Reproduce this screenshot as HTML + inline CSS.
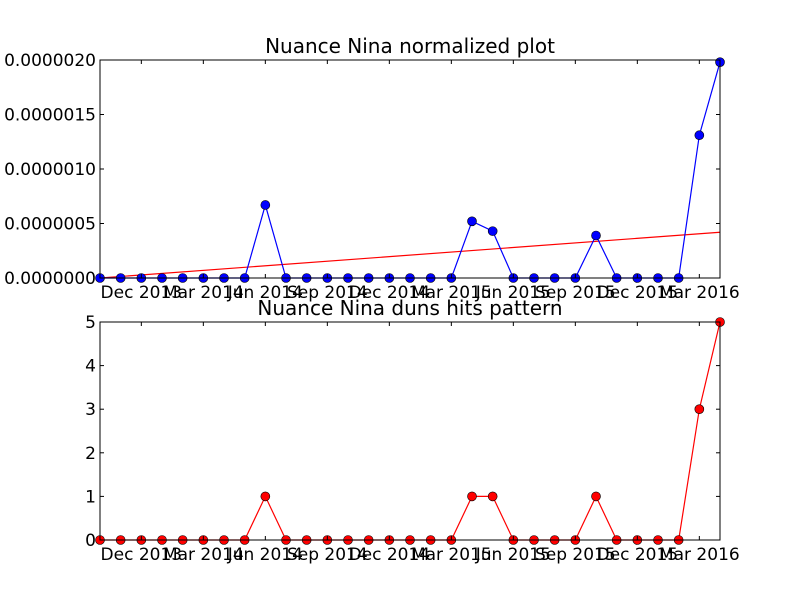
<!DOCTYPE html>
<html><head><meta charset="utf-8"><style>
body{margin:0;background:#fff;}
svg text{font-family:"DejaVu Sans","Liberation Sans",sans-serif;}
</style></head><body>
<svg id="chart" width="800" height="600" xmlns="http://www.w3.org/2000/svg">
<rect width="800" height="600" fill="#fff"/>
</svg>
<script>
const months = ["Oct 2013","Nov 2013","Dec 2013","Jan 2014","Feb 2014","Mar 2014","Apr 2014","May 2014","Jun 2014","Jul 2014","Aug 2014","Sep 2014","Oct 2014","Nov 2014","Dec 2014","Jan 2015","Feb 2015","Mar 2015","Apr 2015","May 2015","Jun 2015","Jul 2015","Aug 2015","Sep 2015","Oct 2015","Nov 2015","Dec 2015","Jan 2016","Feb 2016","Mar 2016","Apr 2016"];
const normValues = [0,0,0,0,0,0,0,0,0.67e-6,0,0,0,0,0,0,0,0,0,0.52e-6,0.43e-6,0,0,0,0,0.39e-6,0,0,0,0,1.31e-6,1.98e-6];
const trendStart = 0;
const trendEnd = 0.42e-6;
const hitValues = [0,0,0,0,0,0,0,0,1,0,0,0,0,0,0,0,0,0,1,1,0,0,0,0,1,0,0,0,0,3,5];
const xTickIdx = [2,5,8,11,14,17,20,23,26,29];
const xTickLabels = ["Dec 2013","Mar 2014","Jun 2014","Sep 2014","Dec 2014","Mar 2015","Jun 2015","Sep 2015","Dec 2015","Mar 2016"];
const topYTicks = [0,0.5e-6,1e-6,1.5e-6,2e-6];
const topYLabels = ["0.0000000","0.0000005","0.0000010","0.0000015","0.0000020"];
const botYTicks = [0,1,2,3,4,5];

const svg = document.getElementById('chart');
const NS = 'http://www.w3.org/2000/svg';
function mk(tag, attrs, parent){const e=document.createElementNS(NS,tag);for(const k in attrs)e.setAttribute(k,attrs[k]);(parent||svg).appendChild(e);return e;}
const L=100,R=720;
function xS(i){return L+(R-L)*i/(months.length-1);}

function panel(top,bottom,ymax,yTicks,yLabels,values,color,title,name,trend){
  const g=mk('g',{});
  
  
  const yS=v=>bottom-(bottom-top)*v/ymax;
  const t=mk('text',{x:410,y:top-7,'text-anchor':'middle','font-size':20},g);
  t.textContent=title;
  
  
  if(trend){
    const tl=mk('line',{x1:xS(0),y1:yS(trend[0]),x2:xS(months.length-1),y2:yS(trend[1]),stroke:'red','stroke-width':1.2},g);
    
    
  }
  const pts=values.map((v,i)=>xS(i)+','+yS(v)).join(' ');
  const pl=mk('polyline',{points:pts,fill:'none',stroke:color,'stroke-width':1.2},g);
  
  
  values.forEach((v,i)=>{
    const c=mk('circle',{cx:xS(i),cy:yS(v),r:4.5,fill:color,stroke:'#000','stroke-width':0.6},g);
    
    
  });
  const fr=mk('rect',{x:L,y:top,width:R-L,height:bottom-top,fill:'none',stroke:'#000','stroke-width':1},g);
  
  
  yTicks.forEach((v,k)=>{
    const y=yS(v);
    mk('line',{x1:L,y1:y,x2:L+4,y2:y,stroke:'#000'},g);
    mk('line',{x1:R,y1:y,x2:R-4,y2:y,stroke:'#000'},g);
    const tx=mk('text',{x:L-4,y:y+6,'text-anchor':'end','font-size':17},g);
    tx.textContent=yLabels[k];
    
    
  });
  xTickIdx.forEach((idx,k)=>{
    const x=xS(idx);
    mk('line',{x1:x,y1:bottom,x2:x,y2:bottom-4,stroke:'#000'},g);
    mk('line',{x1:x,y1:top,x2:x,y2:top+4,stroke:'#000'},g);
    const tx=mk('text',{x:x,y:bottom+20,'text-anchor':'middle','font-size':17},g);
    tx.textContent=xTickLabels[k];
    
    
  });
}
panel(60,278,2e-6,topYTicks,topYLabels,normValues,'blue','Nuance Nina normalized plot','top-panel',[trendStart,trendEnd]);
panel(322,540,5,botYTicks,botYTicks.map(String),hitValues,'red','Nuance Nina duns hits pattern','bottom-panel',null);
</script>
</body></html>
